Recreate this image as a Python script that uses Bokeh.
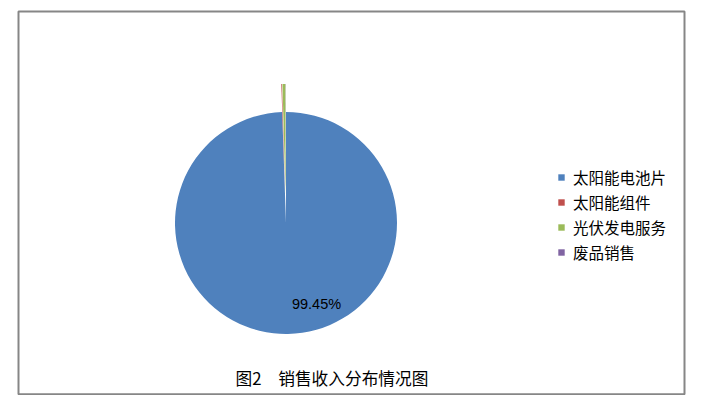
import numpy as np
from bokeh.plotting import figure
from bokeh.models import Range1d, Label, Legend, LegendItem, ColumnDataSource
from bokeh.embed import file_html
from bokeh.resources import INLINE

categories = ["太阳能电池片", "太阳能组件", "光伏发电服务", "废品销售"]
shares = [99.45, 0.10, 0.43, 0.02]
colors = ["#4F81BD", "#C0504D", "#9BBB59", "#8064A2"]
explode = [0, 28, 28, 28]
label_text = "99.45%"
title_text = "图2\u3000销售收入分布情况图"

W, H = 686, 395
p = figure(width=W, height=H, output_backend="svg", toolbar_location=None,
           x_range=Range1d(0, W), y_range=Range1d(0, H), min_border=0,
           outline_line_color=None)
p.axis.visible = False
p.grid.visible = False
p.background_fill_color = "white"
p.border_fill_color = "white"

# chart border
p.quad(left=[18], right=[684], bottom=[1.2], top=[384], fill_color=None,
       line_color="#868686", line_width=2)

cx, cy, r = 285.5, 172.5, 111
frac = np.array(shares) / sum(shares)
cum = np.concatenate([[0], np.cumsum(frac)])
# clockwise from 12 o'clock
start = np.pi / 2 - cum[1:] * 2 * np.pi
end = np.pi / 2 - cum[:-1] * 2 * np.pi
mid = (start + end) / 2
xs = cx + np.array(explode) * np.cos(mid)
ys = cy + np.array(explode) * np.sin(mid)

items = []
for i, cat in enumerate(categories):
    src = ColumnDataSource(dict(x=[xs[i]], y=[ys[i]], s=[start[i]], e=[end[i]]))
    rr = p.wedge(x="x", y="y", radius=r, start_angle="s", end_angle="e",
                 fill_color=colors[i], line_color=None, source=src)
    items.append(LegendItem(label=cat, renderers=[rr]))

p.add_layout(Label(x=cx + 30.5, y=cy - 80.8, text=label_text, text_align="center",
                   text_baseline="middle", text_font="Liberation Sans",
                   text_font_size="14.5px", text_color="#000000"))

p.add_layout(Label(x=331.5, y=395 - 377, text=title_text, text_align="center",
                   text_baseline="middle", text_font="Noto Sans CJK SC",
                   text_font_size="16.7px", text_color="#000000"))

legend = Legend(items=items, location=(557, 132), orientation="vertical",
                padding=0, margin=0, border_line_color=None,
                background_fill_alpha=0, glyph_width=8, glyph_height=8,
                label_standoff=8, label_height=20, spacing=3,
                label_text_font="Noto Sans CJK SC", label_text_font_size="15.5px",
                label_text_color="#000000")
p.add_layout(legend)

open("out.html", "w").write(file_html(p, INLINE))
